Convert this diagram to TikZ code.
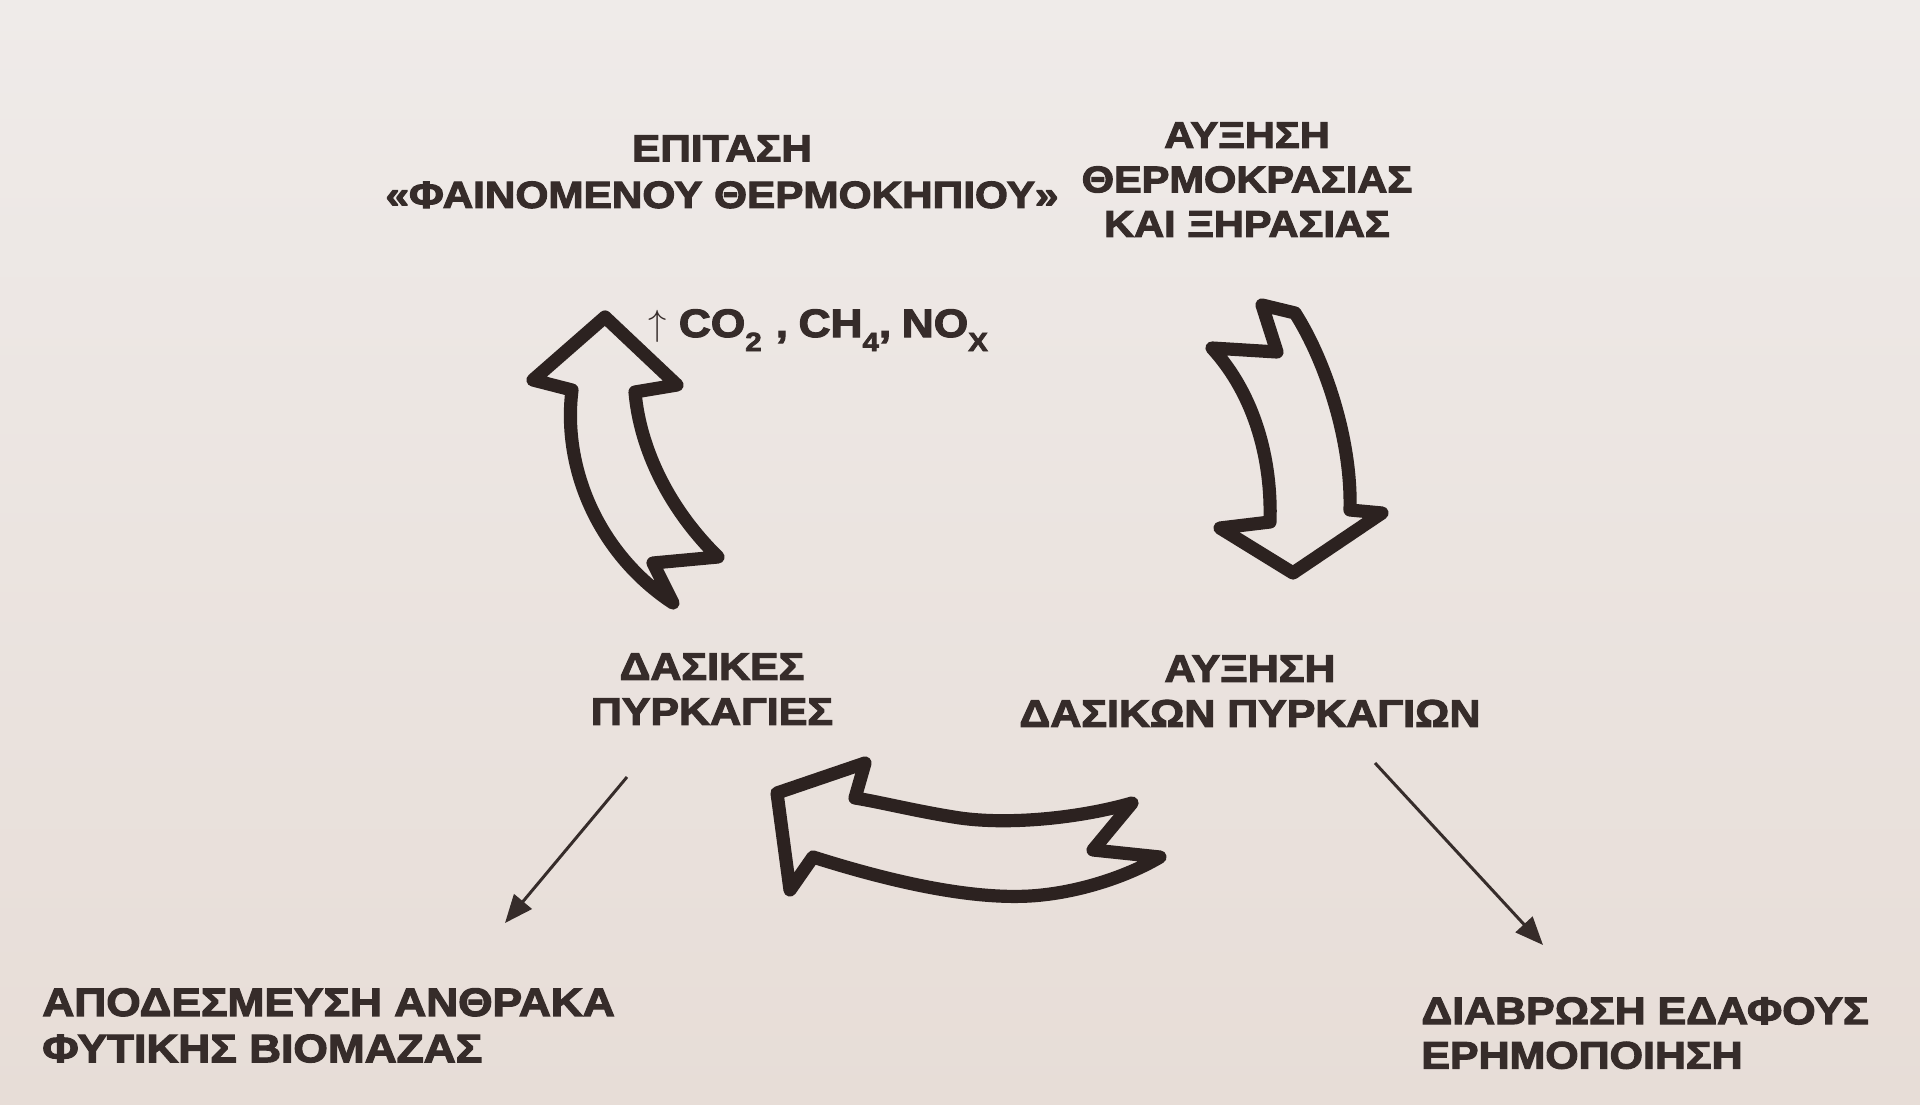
\documentclass[tikz,border=0pt]{standalone}
\usepackage{fontspec}
\setmainfont{Liberation Sans}[FakeStretch=1.12,BoldFeatures={FakeBold=3}]
\usetikzlibrary{arrows.meta}
\definecolor{ink}{RGB}{54,44,42}
\definecolor{pen}{RGB}{44,34,32}
\definecolor{bgtop}{RGB}{239,235,233}
\definecolor{bgbot}{RGB}{231,221,215}
\newcommand\subx[1]{\raisebox{-8pt}{\fontsize{15}{15}\selectfont #1}}
\begin{document}
\begin{tikzpicture}[x=0.02cm,y=-0.02cm,
  lbl/.style={text=ink, inner sep=0pt, align=center},
  hollow/.style={draw=pen, line width=7.5pt, line join=round, line cap=round},
  thinarrow/.style={draw=ink, line width=1.7pt, -{Triangle[length=16pt,width=13pt]}}]
\shade[top color=bgtop,bottom color=bgbot] (0,0) rectangle (1920,1105);
\useasboundingbox (0,0) rectangle (1920,1105);

% texts
\node[lbl, anchor=north, font=\bfseries\fontsize{21.5}{26.5}\selectfont] (tl) at (722,135)
  {ΕΠΙΤΑΣΗ\\«ΦΑΙΝΟΜΕΝΟΥ ΘΕΡΜΟΚΗΠΙΟΥ»};
\node[lbl, anchor=north, font=\bfseries\fontsize{21.1}{25.3}\selectfont] (tr) at (1247,122)
  {ΑΥΞΗΣΗ\\ΘΕΡΜΟΚΡΑΣΙΑΣ\\ΚΑΙ ΞΗΡΑΣΙΑΣ};
\node[lbl, anchor=north, font=\bfseries\fontsize{21.8}{25.6}\selectfont] (ml) at (712,653)
  {ΔΑΣΙΚΕΣ\\ΠΥΡΚΑΓΙΕΣ};
\node[lbl, anchor=north, font=\bfseries\fontsize{21.8}{25.6}\selectfont] (mr) at (1250,655)
  {ΑΥΞΗΣΗ\\ΔΑΣΙΚΩΝ ΠΥΡΚΑΓΙΩΝ};
\node[lbl, align=left, anchor=north west, font=\bfseries\fontsize{22.5}{26.3}\selectfont] (bl) at (42,988)
  {ΑΠΟΔΕΣΜΕΥΣΗ ΑΝΘΡΑΚΑ\\ΦΥΤΙΚΗΣ ΒΙΟΜΑΖΑΣ};
\node[lbl, align=left, anchor=north west, font=\bfseries\fontsize{21.8}{25.3}\selectfont] (br) at (1421,997)
  {ΔΙΑΒΡΩΣΗ ΕΔΑΦΟΥΣ\\ΕΡΗΜΟΠΟΙΗΣΗ};
\node[lbl, anchor=base west, font=\bfseries\fontsize{22.5}{22.5}\selectfont] (gas) at (648,337)
  {\raisebox{1pt}{\fontsize{21}{21}\selectfont$\uparrow$}\hspace{7pt}CO\subx{2}\hspace{8pt},\hspace{6pt}CH\subx{4},\hspace{6pt}NO\subx{X}};

% hollow arrow, left (up)
\draw[hollow] (605,317) -- (677,385) -- (635,392)
  .. controls (640,450) and (670,510) .. (718,557)
  -- (653,563) -- (673,603)
  .. controls (600,555) and (562,470) .. (572,390)
  -- (533,380) -- cycle;

% hollow arrow, right (down)
\draw[hollow] (1212,348) -- (1277,352) -- (1262,305) -- (1295,313)
  .. controls (1325,360) and (1352,440) .. (1350,510)
  -- (1382,513) -- (1293,573) -- (1220,528) -- (1270,522)
  .. controls (1272,460) and (1255,395) .. cycle;

% hollow arrow, bottom (left)
\draw[hollow] (865,763) -- (777,793) -- (790,890) -- (813,857)
  .. controls (870,875) and (960,900) .. (1030,896)
  .. controls (1080,893) and (1130,875) .. (1160,857)
  -- (1093,850) -- (1132,803)
  .. controls (1080,818) and (1010,825) .. (960,818)
  .. controls (920,812) and (880,802) .. (855,798)
  -- cycle;

% thin arrows
\coordinate (a1s) at (627,777);
\coordinate (a1e) at (505,923);
\coordinate (a2s) at (1375,763);
\coordinate (a2e) at (1543,945);
\draw[thinarrow] (a1s) -- (a1e);
\draw[thinarrow] (a2s) -- (a2e);
\end{tikzpicture}
\end{document}
